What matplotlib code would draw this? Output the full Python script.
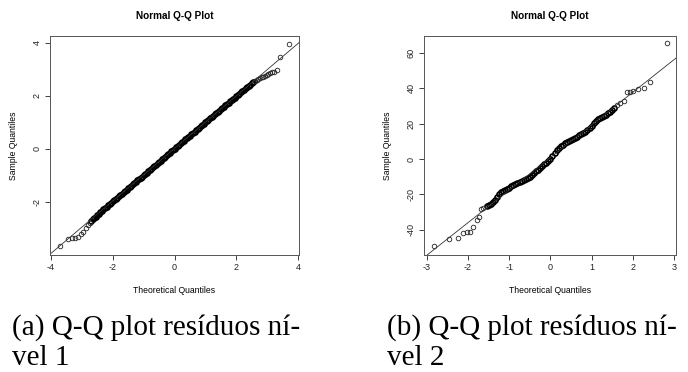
import matplotlib.pyplot as plt
import numpy as np

# panel (a): residuals level 1
lo1_theo = [-3.71, -3.44, -3.33, -3.22, -3.11, -3.03, -2.95, -2.87, -2.79, -2.74]
lo1_samp = [-3.65, -3.41, -3.37, -3.35, -3.31, -3.22, -3.12, -2.99, -2.87, -2.78]

body1_theo = [-2.70, -2.65, -2.60, -2.55, -2.50, -2.45, -2.40, -2.35, -2.30, -2.25,
              -2.20, -2.15, -2.10, -2.05, -2.00, -1.95, -1.90, -1.85, -1.80, -1.75,
              -1.70, -1.65, -1.60, -1.55, -1.50, -1.45, -1.40, -1.35, -1.30, -1.25,
              -1.20, -1.15, -1.10, -1.05, -1.00, -0.95, -0.90, -0.85, -0.80, -0.75,
              -0.70, -0.65, -0.60, -0.55, -0.50, -0.45, -0.40, -0.35, -0.30, -0.25,
              -0.20, -0.15, -0.10, -0.05, 0.00, 0.05, 0.10, 0.15, 0.20, 0.25,
              0.30, 0.35, 0.40, 0.45, 0.50, 0.55, 0.60, 0.65, 0.70, 0.75,
              0.80, 0.85, 0.90, 0.95, 1.00, 1.05, 1.10, 1.15, 1.20, 1.25,
              1.30, 1.35, 1.40, 1.45, 1.50, 1.55, 1.60, 1.65, 1.70, 1.75,
              1.80, 1.85, 1.90, 1.95, 2.00, 2.05, 2.10, 2.15, 2.20, 2.25,
              2.30, 2.35, 2.40, 2.45, 2.50, 2.55]
body1_samp = [-2.72, -2.66, -2.61, -2.56, -2.49, -2.45, -2.39, -2.33, -2.28, -2.23,
              -2.18, -2.13, -2.08, -2.03, -1.98, -1.93, -1.88, -1.84, -1.79, -1.74,
              -1.69, -1.64, -1.59, -1.54, -1.49, -1.44, -1.39, -1.34, -1.29, -1.24,
              -1.19, -1.14, -1.09, -1.04, -0.99, -0.94, -0.89, -0.84, -0.79, -0.74,
              -0.69, -0.64, -0.59, -0.54, -0.49, -0.44, -0.39, -0.34, -0.29, -0.24,
              -0.19, -0.14, -0.09, -0.04, 0.01, 0.06, 0.11, 0.16, 0.21, 0.26,
              0.31, 0.36, 0.41, 0.46, 0.50, 0.55, 0.60, 0.65, 0.70, 0.75,
              0.80, 0.85, 0.90, 0.95, 1.00, 1.05, 1.10, 1.15, 1.20, 1.25,
              1.30, 1.35, 1.40, 1.45, 1.50, 1.55, 1.60, 1.65, 1.70, 1.75,
              1.80, 1.84, 1.89, 1.94, 1.99, 2.04, 2.09, 2.14, 2.19, 2.24,
              2.29, 2.34, 2.39, 2.43, 2.47, 2.51]

hi1_theo = [2.60, 2.62, 2.66, 2.70, 2.77, 2.82, 2.87, 2.92, 2.98, 3.03, 3.09, 3.15, 3.22, 3.33, 3.41, 3.72]
hi1_samp = [2.55, 2.57, 2.60, 2.62, 2.67, 2.70, 2.73, 2.76, 2.79, 2.82, 2.86, 2.89, 2.92, 2.98, 3.48, 3.95]

line1 = (0.02, 0.99)  # intercept, slope

# panel (b): residuals level 2
lo2_theo = [-2.83, -2.46, -2.25, -2.12, -2.03, -1.95, -1.87, -1.79, -1.73, -1.69, -1.63]
lo2_samp = [-49.0, -45.2, -44.8, -41.6, -41.2, -41.0, -38.6, -34.5, -32.6, -28.2, -27.5]

body2_theo = [-1.55, -1.50, -1.45, -1.40, -1.35, -1.30, -1.25, -1.20, -1.15, -1.10,
              -1.05, -1.00, -0.95, -0.90, -0.85, -0.80, -0.75, -0.70, -0.65, -0.60,
              -0.55, -0.50, -0.45, -0.40, -0.35, -0.30, -0.25, -0.20, -0.15, -0.10,
              -0.05, 0.00, 0.05, 0.10, 0.15, 0.20, 0.25, 0.30, 0.35, 0.40,
              0.45, 0.50, 0.55, 0.60, 0.65, 0.70, 0.75, 0.80, 0.85, 0.90,
              0.95, 1.00, 1.05, 1.10, 1.15, 1.20, 1.25, 1.30, 1.35, 1.40,
              1.45, 1.50, 1.55]
body2_samp = [-26.5, -26.0, -25.5, -24.5, -23.0, -21.5, -20.0, -18.8, -18.0, -17.5,
              -17.0, -16.5, -15.5, -14.8, -14.0, -13.3, -12.7, -12.2, -11.8, -11.3,
              -10.6, -10.0, -9.0, -8.0, -7.0, -6.0, -5.0, -4.0, -3.0, -2.0,
              -1.0, 0.0, 1.8, 3.4, 5.0, 6.3, 7.3, 8.2, 8.9, 9.6,
              10.2, 10.8, 11.4, 12.0, 12.6, 13.3, 13.9, 14.6, 15.4, 16.4,
              17.6, 18.8, 20.2, 21.4, 22.4, 23.1, 23.7, 24.3, 25.0, 25.8,
              26.7, 27.6, 29.0]

hi2_theo = [1.62, 1.69, 1.79, 1.86, 1.93, 2.01, 2.12, 2.27, 2.43, 2.82]
hi2_samp = [30.5, 31.5, 32.8, 37.8, 38.0, 38.4, 39.4, 40.0, 43.7, 65.4]

line2 = (0.9, 18.4)

xticks1 = [-4, -2, 0, 2, 4]
yticks1 = [-2, 0, 2, 4]
xticks2 = [-3, -2, -1, 0, 1, 2, 3]
yticks2 = [-40, -20, 0, 20, 40, 60]

captions = [("(a) Q-Q plot resíduos ní-", "vel 1"), ("(b) Q-Q plot resíduos ní-", "vel 2")]

plt.rcParams['font.family'] = ['Liberation Sans', 'DejaVu Sans']

fig = plt.figure(figsize=(6.88, 3.72), dpi=100)
ax1 = fig.add_axes([50/688, 1 - 255/372, 249/688, 219/372])
ax2 = fig.add_axes([424/688, 1 - 255/372, 252/688, 219/372])


def qq_panel(ax, lo, body, hi, line, xlim, ylim, xticks, yticks):
    # the dense middle overlaps into a solid band, the tails stay open circles
    ax.plot(body[0], body[1], 'o', ms=3.6, mfc='none', mec='black', mew=1.2)
    for t, s in (lo, hi):
        ax.plot(t, s, 'o', ms=3.3, mfc='none', mec='#222222', mew=0.6)
    ax.axline((0, line[0]), slope=line[1], color='#333333', lw=0.6)
    ax.set_xlim(*xlim)
    ax.set_ylim(*ylim)
    ax.set_xticks(xticks)
    ax.set_yticks(yticks)
    ax.set_xticklabels([str(t) for t in xticks])
    ax.set_yticklabels([str(t) for t in yticks], rotation=90, va='center')
    ax.tick_params(direction='out', length=3.5, width=0.6, labelsize=6.5,
                   pad=2.5, colors='#222222')
    for s in ax.spines.values():
        s.set_linewidth(0.7)
        s.set_color('#555555')
    ax.text(0.5, 1.09, 'Normal Q-Q Plot', transform=ax.transAxes,
            ha='center', va='center', fontsize=7.2, fontweight='bold')
    ax.text(0.5, -0.16, 'Theoretical Quantiles', transform=ax.transAxes,
            ha='center', va='center', fontsize=6.2)
    ax.text(-0.145, 0.5, 'Sample Quantiles', transform=ax.transAxes,
            ha='center', va='center', rotation=90, fontsize=6.2)


qq_panel(ax1, (lo1_theo, lo1_samp), (body1_theo, body1_samp), (hi1_theo, hi1_samp),
         line1, (-4.03, 4.03), (-4.0, 4.26), xticks1, yticks1)
qq_panel(ax2, (lo2_theo, lo2_samp), (body2_theo, body2_samp), (hi2_theo, hi2_samp),
         line2, (-3.07, 3.05), (-54.2, 69.5), xticks2, yticks2)

serif = ['Liberation Serif', 'DejaVu Serif']
for x0, (first, second) in zip([12/688, 387/688], captions):
    fig.text(x0, 1 - 335/372, first, family=serif, fontsize=21, va='baseline', ha='left')
    fig.text(x0, 1 - 365/372, second, family=serif, fontsize=21, va='baseline', ha='left')

fig.savefig('out.png', dpi=100)
